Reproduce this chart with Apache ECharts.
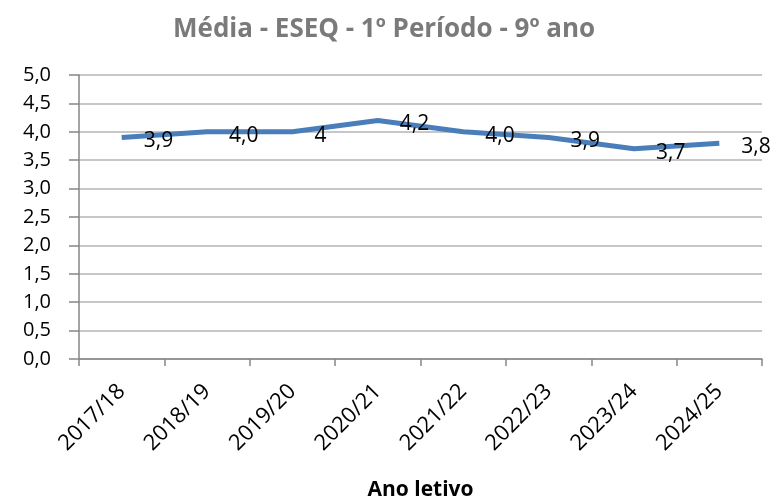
<!DOCTYPE html>
<html>
<head>
<meta charset="utf-8">
<script src="https://cdn.jsdelivr.net/npm/echarts@6/dist/echarts.min.js"></script>
<style>
  html, body { margin: 0; padding: 0; background: #fff; }
  #chart { width: 780px; height: 501px; }
</style>
</head>
<body>
<div id="chart"></div>
<script>
// dados
const anos = ['2017/18', '2018/19', '2019/20', '2020/21', '2021/22', '2022/23', '2023/24', '2024/25']
const medias = [3.9, 4.0, 4.0, 4.2, 4.0, 3.9, 3.7, 3.8]
const rotulos = ['3,9', '4,0', '4', '4,2', '4,0', '3,9', '3,7', '3,8']

const fonte = '"Open Sans", "Liberation Sans", sans-serif'

const chart = echarts.init(document.getElementById('chart'))

const option = {
  animation: false,
  title: {
    text: 'Média - ESEQ - 1º Período - 9º ano',
    left: 168,
    top: 12,
    textStyle: {
      fontFamily: fonte,
      fontSize: 26,
      fontWeight: 'bold',
      color: '#7a7a7a'
    }
  },
  grid: {
    left: 79,
    right: 18,
    top: 75,
    bottom: 142,
    containLabel: false,
    outerBoundsMode: 'none'
  },
  xAxis: {
    type: 'category',
    data: anos,
    boundaryGap: true,
    name: 'Ano letivo',
    nameLocation: 'middle',
    nameGap: 121,
    nameTextStyle: {
      fontFamily: fonte,
      fontSize: 21,
      fontWeight: 'bold',
      color: '#000'
    },
    axisLine: { lineStyle: { color: '#868686', width: 1.5 } },
    axisTick: { show: true, length: 7, lineStyle: { color: '#868686', width: 1.5 } },
    axisLabel: {
      rotate: 45,
      margin: 29,
      fontFamily: fonte,
      fontSize: 22,
      color: '#000'
    }
  },
  yAxis: {
    type: 'value',
    min: 0,
    max: 5,
    interval: 0.5,
    axisLine: { show: true, lineStyle: { color: '#868686', width: 1.5 } },
    axisTick: { show: true, inside: false, length: 10, lineStyle: { color: '#868686', width: 1.5 } },
    splitLine: { lineStyle: { color: '#b4b4b4', width: 1.5 } },
    axisLabel: {
      margin: 28,
      fontFamily: fonte,
      fontSize: 20,
      color: '#000',
      formatter: v => v.toFixed(1).replace('.', ',')
    }
  },
  series: [{
    type: 'line',
    data: medias,
    symbol: 'circle',
    symbolSize: 0,
    showSymbol: true,
    itemStyle: { color: '#4a7ebb' },
    lineStyle: { color: '#4a7ebb', width: 5 },
    label: {
      show: true,
      position: 'right',
      distance: 22,
      offset: [0, 4],
      fontFamily: fonte,
      fontSize: 21,
      color: '#000',
      formatter: p => rotulos[p.dataIndex]
    }
  }]
}

chart.setOption(option)
</script>
</body>
</html>
